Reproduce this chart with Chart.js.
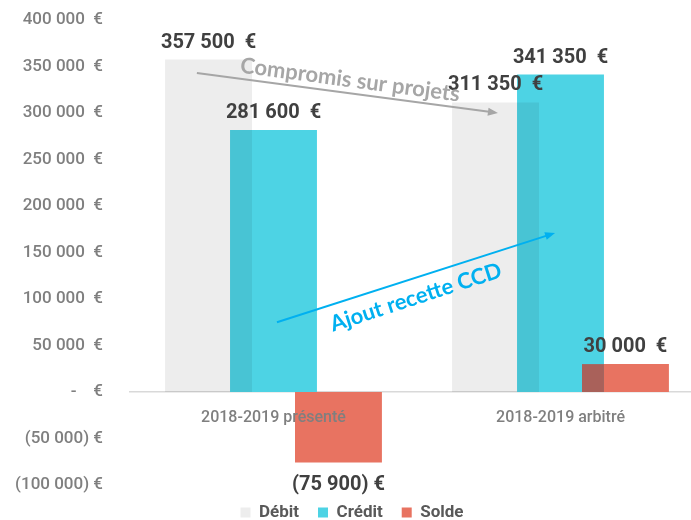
<!DOCTYPE html>
<html>
<head>
<meta charset="utf-8">
<script src="https://cdn.jsdelivr.net/npm/chart.js@4"></script>
<style>
  html, body { margin: 0; padding: 0; overflow: hidden; background: #fff; }
  #wrap { width: 720px; height: 520px; }
</style>
</head>
<body>
<div id="wrap"><canvas id="chartBudget" width="720" height="520"></canvas></div>
<script>
// données
const categories = ['2018-2019 présenté', '2018-2019 arbitré'];
const debit = [357500, 311350];
const credit = [281600, 341350];
const solde = [-75900, 30000];
const yTicks = [-100000, -50000, 0, 50000, 100000, 150000, 200000, 250000, 300000, 350000, 400000];

// flèches d'annotation (index de catégorie, valeur)
const notes = [
  { text: 'Compromis sur projets', color: '#a6a6a6', from: [-0.267, 343000], to: [0.782, 300000], label: [0.267, 335500], angle: 7.6 },
  { text: 'Ajout recette CCD', color: '#00b0f0', from: [0.012, 75000], to: [0.981, 171000], label: [0.496, 101700], angle: -18 }
];

function milliers(v) {
  return String(Math.round(v)).replace(/\B(?=(\d{3})+(?!\d))/g, ' ');
}
function euros(v) {
  if (v === 0) return '-    €';
  if (v < 0) return '(' + milliers(-v) + ') €';
  return milliers(v) + '  €';
}

// le débit (gris) passe derrière les autres barres : mélange "multiply"
const blendPlugin = {
  id: 'blend',
  beforeDatasetDraw(chart, args) {
    chart.ctx.save();
    if (args.index === 0) chart.ctx.globalCompositeOperation = 'multiply';
  },
  afterDatasetDraw(chart) {
    chart.ctx.restore();
  }
};

// zone où crédit et solde se chevauchent
const overlapPlugin = {
  id: 'overlap',
  afterDatasetsDraw(chart) {
    const ctx = chart.ctx;
    const a = chart.getDatasetMeta(1).data;
    const b = chart.getDatasetMeta(2).data;
    ctx.save();
    ctx.fillStyle = '#a9615a';
    a.forEach((bar, i) => {
      const r = b[i];
      const x1 = Math.max(bar.x - bar.width / 2, r.x - r.width / 2);
      const x2 = Math.min(bar.x + bar.width / 2, r.x + r.width / 2);
      const y1 = Math.max(Math.min(bar.y, bar.base), Math.min(r.y, r.base));
      const y2 = Math.min(Math.max(bar.y, bar.base), Math.max(r.y, r.base));
      if (x2 > x1 && y2 > y1) ctx.fillRect(x1, y1, x2 - x1, y2 - y1);
    });
    ctx.restore();
  }
};

const labelPlugin = {
  id: 'valeurs',
  afterDatasetsDraw(chart) {
    const ctx = chart.ctx;
    ctx.save();
    ctx.font = 'bold 20px Roboto, sans-serif';
    ctx.fillStyle = '#404040';
    ctx.textAlign = 'center';
    ctx.textBaseline = 'middle';
    chart.data.datasets.forEach((ds, di) => {
      chart.getDatasetMeta(di).data.forEach((bar, i) => {
        const v = ds.data[i];
        const y = v >= 0 ? bar.y - 17 : bar.y + 22;
        ctx.fillText(euros(v), bar.x, y);
      });
    });
    ctx.restore();
  }
};

const arrowPlugin = {
  id: 'fleches',
  afterDraw(chart) {
    const ctx = chart.ctx;
    const xs = chart.scales.x, ys = chart.scales.y;
    const px = p => [xs.getPixelForValue(p[0]), ys.getPixelForValue(p[1])];
    notes.forEach(n => {
      const [x0, y0] = px(n.from);
      const [x1, y1] = px(n.to);
      const ang = Math.atan2(y1 - y0, x1 - x0);
      ctx.save();
      ctx.strokeStyle = n.color;
      ctx.fillStyle = n.color;
      ctx.lineWidth = 2;
      ctx.beginPath();
      ctx.moveTo(x0, y0);
      ctx.lineTo(x1 - 7 * Math.cos(ang), y1 - 7 * Math.sin(ang));
      ctx.stroke();
      ctx.translate(x1, y1);
      ctx.rotate(ang);
      ctx.beginPath();
      ctx.moveTo(0, 0);
      ctx.lineTo(-10, -4);
      ctx.lineTo(-10, 4);
      ctx.closePath();
      ctx.fill();
      ctx.restore();

      const [lx, ly] = px(n.label);
      ctx.save();
      ctx.translate(lx, ly);
      ctx.rotate(n.angle * Math.PI / 180);
      ctx.font = 'bold 22px Lato, sans-serif';
      ctx.fillStyle = n.color;
      ctx.textAlign = 'center';
      ctx.textBaseline = 'middle';
      ctx.fillText(n.text, 0, 0);
      ctx.restore();
    });
  }
};

const ctx = document.getElementById('chartBudget').getContext('2d');
new Chart(ctx, {
  type: 'bar',
  data: {
    labels: categories,
    datasets: [
      { label: 'Débit', data: debit, backgroundColor: '#ededed' },
      { label: 'Crédit', data: credit, backgroundColor: '#4dd3e4' },
      { label: 'Solde', data: solde, backgroundColor: '#e87361' }
    ]
  },
  options: {
    responsive: false,
    animation: false,
    categoryPercentage: 0.679,
    barPercentage: 1.338,
    layout: { padding: { top: 20, right: 16, bottom: -11, left: 0 } },
    plugins: {
      legend: {
        position: 'bottom',
        labels: {
          boxWidth: 10,
          boxHeight: 10,
          padding: 19,
          color: '#595959',
          font: { family: 'Roboto, sans-serif', size: 17, weight: 'bold', lineHeight: 1.165 }
        }
      },
      tooltip: { enabled: false }
    },
    scales: {
      x: {
        position: { y: 0 },
        afterFit(scale) { scale.height = 0; },
        grid: { display: false, drawTicks: false },
        border: { color: '#d9d9d9', width: 1.5 },
        ticks: {
          z: 1,
          color: '#7f7f7f',
          padding: 16,
          font: { family: 'Roboto, sans-serif', size: 16, weight: 500 }
        }
      },
      y: {
        min: -100000,
        max: 400000,
        afterFit(scale) {
          scale.width = 130;
          scale.paddingTop = 10;
          scale.paddingBottom = 10;
        },
        afterBuildTicks(scale) { scale.ticks = yTicks.map(v => ({ value: v })); },
        grid: { display: false, drawTicks: false },
        border: { display: false },
        ticks: {
          color: '#7f7f7f',
          padding: 27,
          font: { family: 'Roboto, sans-serif', size: 17, weight: 500 },
          callback: v => euros(v)
        }
      }
    }
  },
  plugins: [blendPlugin, overlapPlugin, labelPlugin, arrowPlugin]
});
</script>
</body>
</html>
